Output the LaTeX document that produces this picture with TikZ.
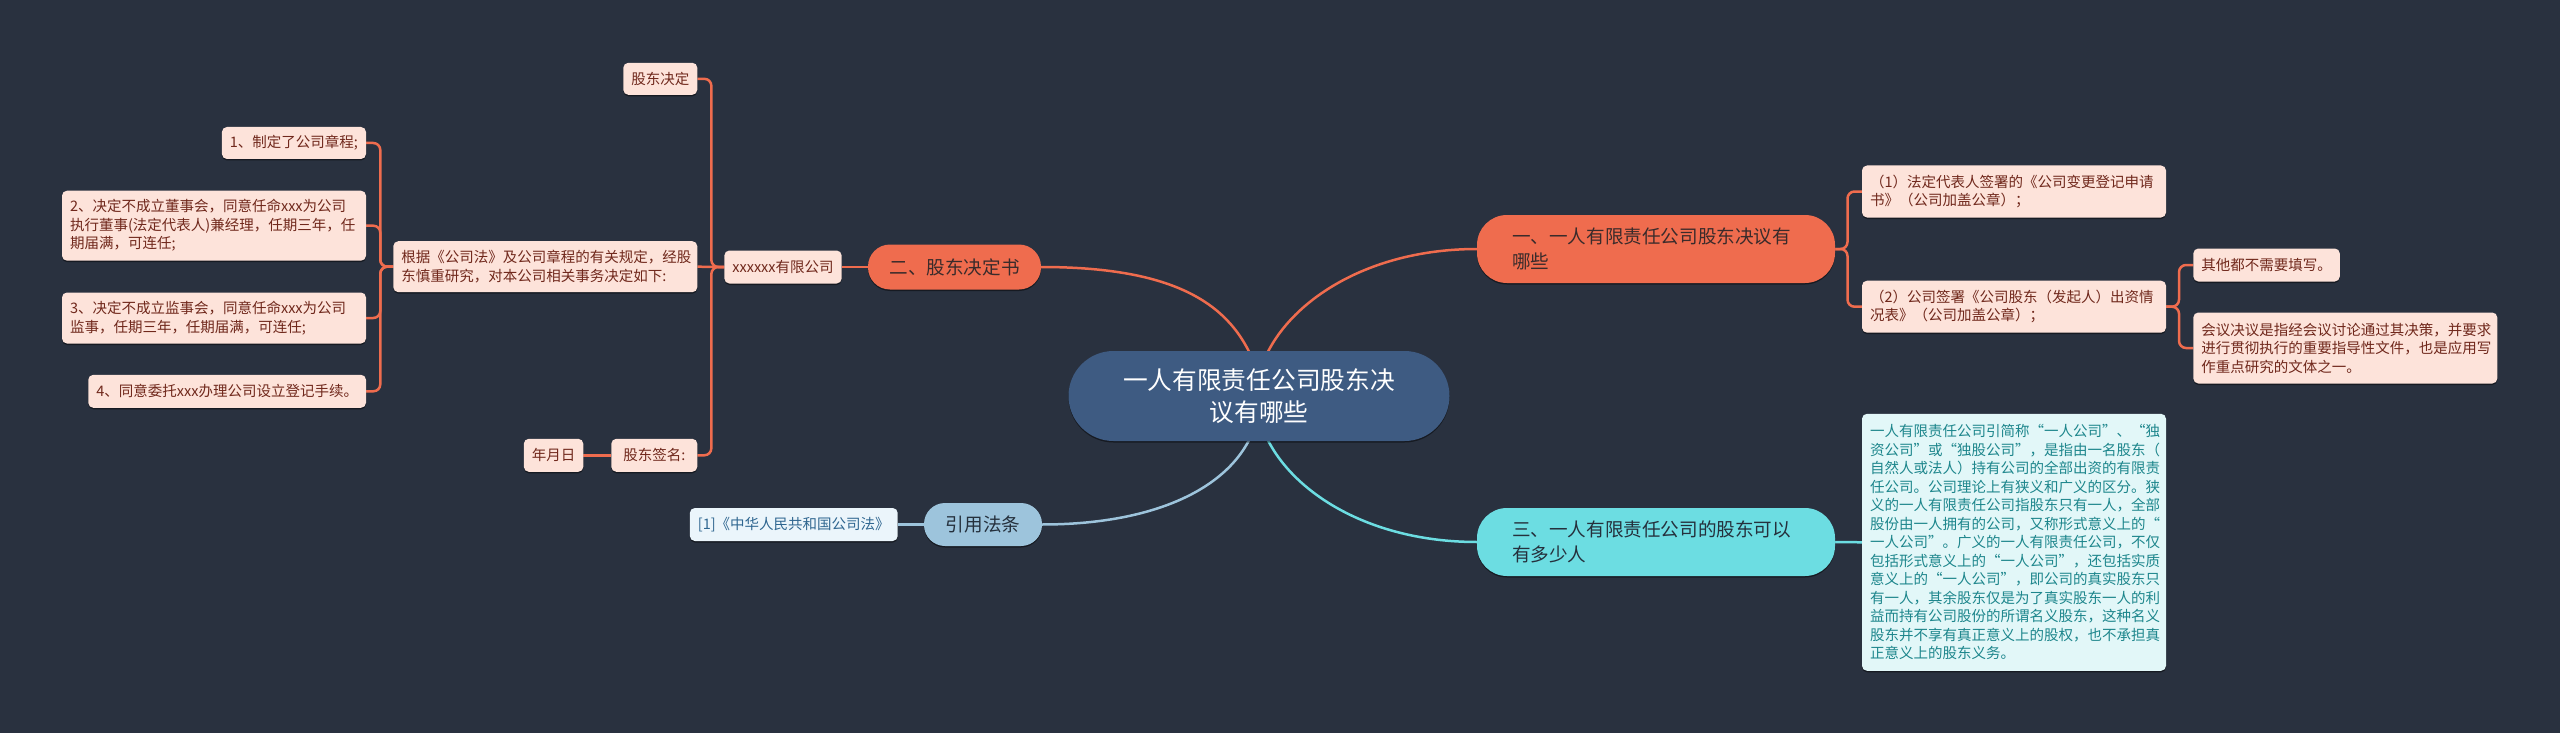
\documentclass[tikz,border=0pt]{standalone}
\usepackage{fontspec}
\newfontfamily\cjk{Noto Sans CJK SC}
\usetikzlibrary{shadows}
\definecolor{bgc}{HTML}{29313F}
\definecolor{cen}{HTML}{3E5B82}
\definecolor{org}{HTML}{EF6C4E}
\definecolor{orgl}{HTML}{FDE3DA}
\definecolor{orgt}{HTML}{70281C}
\definecolor{mt}{HTML}{3A2B2B}
\definecolor{blu}{HTML}{9DC4DC}
\definecolor{blul}{HTML}{EBF5FB}
\definecolor{blut}{HTML}{2F6690}
\definecolor{cya}{HTML}{6CDDE2}
\definecolor{cyal}{HTML}{E2F7F8}
\definecolor{cyat}{HTML}{1D868C}
\definecolor{dk}{HTML}{25303C}
\pgfdeclarelayer{bgl}
\pgfdeclarelayer{edges}
\pgfsetlayers{bgl,edges,main}
\begin{document}
\begin{tikzpicture}[x=1pt,y=-1pt,
  every node/.style={inner sep=0pt, outer sep=0pt},
  shad/.style={drop shadow={shadow xshift=0pt, shadow yshift=-1.5pt, opacity=0.45, fill=black}},
  sub/.style={shad, rounded corners=5pt, inner xsep=8pt, font=\cjk\fontsize{14.5}{18.5}\selectfont},
  multi/.style={text width=288pt, align=left},
  osub/.style={sub, fill=orgl, text=orgt},
  bsub/.style={sub, fill=blul, text=blut},
  csub/.style={sub, fill=cyal, text=cyat},
  topic/.style={shad, font=\cjk\fontsize{18.6}{25}\selectfont},
  oline/.style={draw=org, line width=2.5pt, rounded corners=7pt},
  bline/.style={draw=blu, line width=2.5pt},
  cline/.style={draw=cya, line width=2.5pt}
]
\useasboundingbox (0,0) rectangle (2560,733);
\begin{pgfonlayer}{bgl}
\fill[bgc] (0,0) rectangle (2560,733);
\end{pgfonlayer}

% central
\node[shad, fill=cen, text=white, rounded corners=45pt, minimum width=381pt, minimum height=90pt,
  text width=330pt, align=center, font=\cjk\fontsize{24.7}{31.6}\selectfont] (c) at (1259,396)
  {一人有限责任公司股东决\\议有哪些};
\coordinate (cTL) at (1252,358);
\coordinate (cTR) at (1265,358);
\coordinate (cBL) at (1252,434);
\coordinate (cBR) at (1265,434);

% branch two (left, orange)
\node[topic, fill=org, text=mt, rounded corners=22pt, minimum width=173pt, minimum height=45pt] (n2) at (954.5,267) {二、股东决定书};
\node[osub, minimum width=116pt, minimum height=33pt] (xxx) at (783,267) {xxxxxx有限公司};
\node[osub, anchor=east, minimum width=72pt, minimum height=32pt] (gd) at (697.3,78.8) {股东决定};
\node[osub, multi, anchor=east, minimum height=51pt] (gj) at (697.3,266.7) {根据《公司法》及公司章程的有关规定，经股\\东慎重研究，对本公司相关事务决定如下:};
\node[osub, anchor=east, minimum width=86pt, minimum height=33pt] (sig) at (697.3,455.3) {股东签名:};
\node[osub, anchor=east, minimum width=57pt, minimum height=33pt] (ymd) at (583.3,455.3) {年月日};
\node[osub, anchor=east, minimum width=142pt, minimum height=32pt] (i1) at (366,143) {1、制定了公司章程;};
\node[osub, multi, anchor=east, minimum height=70pt] (i2) at (366,225.7) {2、决定不成立董事会，同意任命xxx为公司\\执行董事(法定代表人)兼经理，任期三年，任\\期届满，可连任;};
\node[osub, multi, anchor=east, minimum height=51pt] (i3) at (366,318) {3、决定不成立监事会，同意任命xxx为公司\\监事，任期三年，任期届满，可连任;};
\node[osub, anchor=east, minimum width=277pt, minimum height=33pt] (i4) at (366,391.3) {4、同意委托xxx办理公司设立登记手续。};

% law branch (blue)
\node[topic, fill=blu, text=dk, rounded corners=21pt, minimum width=118pt, minimum height=43pt] (law) at (983,524.5) {引用法条};
\node[bsub, anchor=east, minimum width=206pt, minimum height=33pt] (lawref) at (897.7,524.5) {[1]《中华人民共和国公司法》};

% branch one (right, orange)
\node[topic, fill=org, text=mt, rounded corners=30pt, anchor=west, minimum height=68pt, text width=288pt, inner xsep=35pt, align=left] (n1) at (1477,249) {一、一人有限责任公司股东决议有\\哪些};
\node[osub, multi, anchor=west, minimum height=52pt] (r1) at (1862,191.5) {（1）法定代表人签署的《公司变更登记申请\\书》（公司加盖公章）；};
\node[osub, multi, anchor=west, minimum height=52pt] (r2) at (1862,306.7) {（2）公司签署《公司股东（发起人）出资情\\况表》（公司加盖公章）；};
\node[osub, anchor=west, minimum width=145pt, minimum height=33pt] (q1) at (2193.3,265) {其他都不需要填写。};
\node[osub, multi, anchor=west, minimum height=71pt] (q2) at (2193.3,348) {会议决议是指经会议讨论通过其决策，并要求\\进行贯彻执行的重要指导性文件，也是应用写\\作重点研究的文体之一。};

% branch three (right, cyan)
\node[topic, fill=cya, text=dk, rounded corners=30pt, anchor=west, minimum height=68pt, text width=288pt, inner xsep=35pt, align=left] (n3) at (1477,542) {三、一人有限责任公司的股东可以\\有多少人};
\node[csub, multi, anchor=west, minimum height=257pt] (long) at (1862,542.3) {一人有限责任公司引简称“一人公司”、“独\\资公司”或“独股公司”，是指由一名股东（\\自然人或法人）持有公司的全部出资的有限责\\任公司。公司理论上有狭义和广义的区分。狭\\义的一人有限责任公司指股东只有一人，全部\\股份由一人拥有的公司，又称形式意义上的“\\一人公司”。广义的一人有限责任公司，不仅\\包括形式意义上的“一人公司”，还包括实质\\意义上的“一人公司”，即公司的真实股东只\\有一人，其余股东仅是为了真实股东一人的利\\益而持有公司股份的所谓名义股东，这种名义\\股东并不享有真正意义上的股权，也不承担真\\正意义上的股东义务。};

\begin{pgfonlayer}{edges}
% main curves
\draw[oline] (cTL) .. controls (1227,301) and (1170,267) .. (n2.east);
\draw[oline] (cTR) .. controls (1290,301) and (1368,249) .. (n1.west);
\draw[bline] (cBL) .. controls (1227,491) and (1150,524.5) .. (law.east);
\draw[cline] (cBR) .. controls (1290,491) and (1368,542) .. (n3.west);
% branch two
\draw[oline] (n2.west) -- (xxx.east);
\draw[oline] (xxx.west) -- (gj.east);
\draw[oline] (xxx.west) -- ++(-13,0) |- (gd.east);
\draw[oline] (xxx.west) -- ++(-13,0) |- (sig.east);
\draw[oline] (sig.west) -- (ymd.east);
\draw[oline] (gj.west) -- ++(-13,0) |- (i1.east);
\draw[oline] (gj.west) -- ++(-13,0) |- (i2.east);
\draw[oline] (gj.west) -- ++(-13,0) |- (i3.east);
\draw[oline] (gj.west) -- ++(-13,0) |- (i4.east);
% law
\draw[bline] (law.west) -- (lawref.east);
% branch one
\draw[oline] (n1.east) -- ++(12.5,0) |- (r1.west);
\draw[oline] (n1.east) -- ++(12.5,0) |- (r2.west);
\draw[oline] (r2.east) -- ++(13,0) |- (q1.west);
\draw[oline] (r2.east) -- ++(13,0) |- (q2.west);
% branch three
\draw[cline] (n3.east) -- (long.west);
\end{pgfonlayer}
\end{tikzpicture}
\end{document}
